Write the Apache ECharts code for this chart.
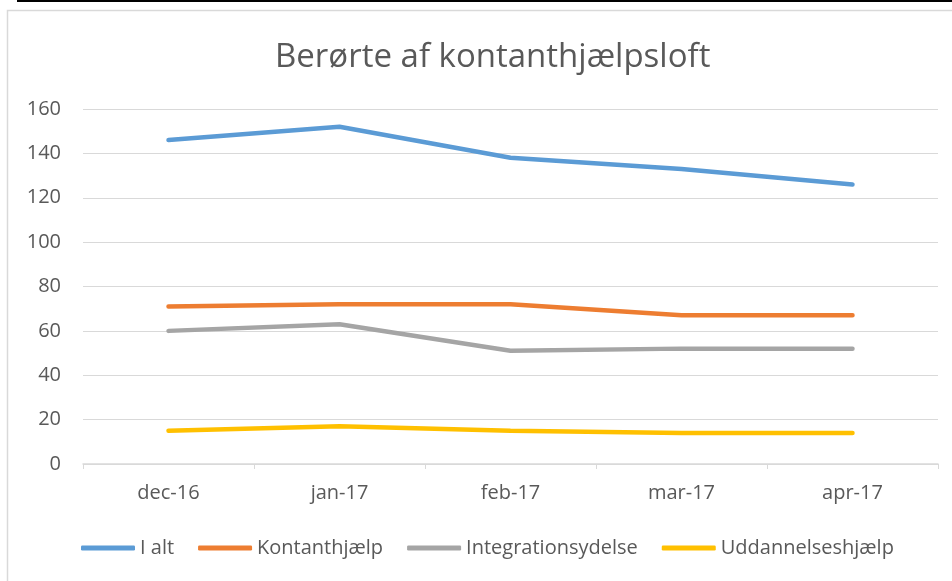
<!DOCTYPE html>
<html><head><meta charset="utf-8">
<script src="https://cdn.jsdelivr.net/npm/echarts@6/dist/echarts.min.js"></script>
<style>html,body{margin:0;padding:0;background:#fff}#c{width:952px;height:581px}</style>
</head><body><div id="c"></div>
<script>
const categories = ['dec-16','jan-17','feb-17','mar-17','apr-17'];
const iAlt = [146,152,138,133,126];
const kontanthjaelp = [71,72,72,67,67];
const integrationsydelse = [60,63,51,52,52];
const uddannelseshjaelp = [15,17,15,14,14];
const seriesNames = ['I alt','Kontanthjælp','Integrationsydelse','Uddannelseshjælp'];
const colors = ['#5b9bd5','#ed7d31','#a5a5a5','#ffc000'];
const txt = '#595959';
const chart = echarts.init(document.getElementById('c'));
const mk = (name, data, i) => ({name, type:'line', data, symbol:'none', smooth:false,
  lineStyle:{width:4.5, color:colors[i], cap:'round'}, itemStyle:{color:colors[i]}});
chart.setOption({
  animation:false,
  title:{text:'Berørte af kontanthjælpsloft', left:270, top:36,
    textStyle:{fontFamily:'Open Sans', fontWeight:'normal', fontSize:33, color:txt}},
  graphic:[
    {type:'rect', shape:{x:7.5,y:10.5,width:960,height:600}, style:{fill:'none', stroke:'#d9d9d9', lineWidth:1.5}},
    {type:'line', shape:{x1:17,y1:1,x2:952,y2:1}, style:{stroke:'#000', lineWidth:2}}
  ],
  legend:{top:533, left:76, itemWidth:54, itemHeight:5, itemGap:24,
    icon:'roundRect',
    textStyle:{fontFamily:'Open Sans', fontSize:20, color:txt},
    data:seriesNames},
  grid:{left:83, right:14, top:109, bottom:117, containLabel:false},
  xAxis:{type:'category', data:categories, boundaryGap:true,
    axisLine:{lineStyle:{color:'#d9d9d9', width:1.5}},
    axisTick:{show:true, length:5, lineStyle:{color:'#d9d9d9'}},
    axisLabel:{color:txt, fontFamily:'Open Sans', fontSize:20, margin:19}},
  yAxis:{type:'value', min:0, max:160, interval:20,
    axisLine:{show:false}, axisTick:{show:false},
    splitLine:{lineStyle:{color:'#d9d9d9', width:1.2}},
    axisLabel:{color:txt, fontFamily:'Open Sans', fontSize:20, margin:22}},
  series:[mk(seriesNames[0], iAlt,0), mk(seriesNames[1], kontanthjaelp,1),
          mk(seriesNames[2], integrationsydelse,2), mk(seriesNames[3], uddannelseshjaelp,3)]
});
</script></body></html>
